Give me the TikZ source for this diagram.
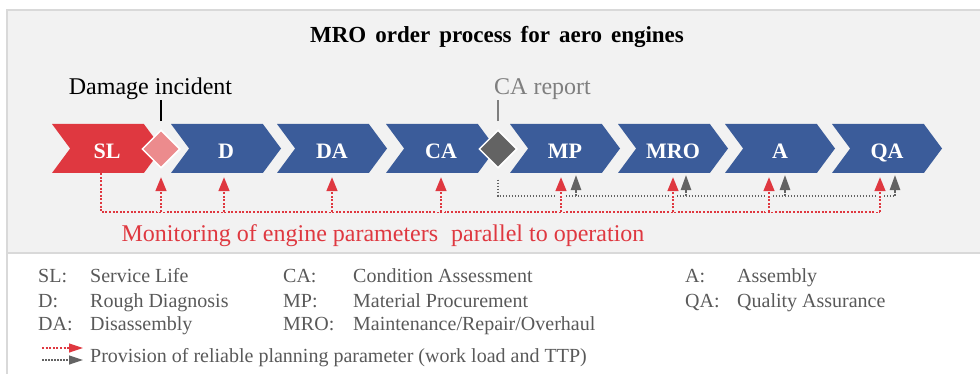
\documentclass[tikz,border=0pt]{standalone}
\usepackage{fontspec}
\setmainfont{Liberation Serif}
\usetikzlibrary{arrows.meta, positioning, calc, shapes.geometric, shapes.symbols}
\definecolor{ProcBlue}{HTML}{3B5C9A}
\definecolor{AlertRed}{HTML}{DF3840}
\definecolor{SoftRed}{HTML}{EC8B8D}
\definecolor{MarkGray}{HTML}{636363}
\definecolor{PanelGray}{HTML}{F2F2F2}
\definecolor{FrameGray}{HTML}{D9D9D9}
\definecolor{TextGray}{HTML}{595959}
\definecolor{NoteGray}{HTML}{7F7F7F}
\tikzset{
  phase/.style={shape=signal, signal from=west, signal to=east, signal pointer angle=107, fill=ProcBlue, minimum width=110pt, minimum height=49pt, inner sep=0pt, text=white, font=\fontsize{22}{22}\selectfont\bfseries, text height=20pt, text depth=0pt},
  redphase/.style={phase, fill=AlertRed},
  milestone/.style={diamond, draw=white, line width=1.5pt, minimum size=38pt, inner sep=0pt},
  eventlabel/.style={font=\fontsize{24}{24}\selectfont, anchor=base, inner sep=0pt},
  tick/.style={line width=1.4pt},
  legendtext/.style={font=\fontsize{20}{20}\selectfont, text=TextGray, anchor=base west, inner sep=0pt},
  monline/.style={draw=AlertRed, line width=1.6pt, dash pattern=on 2pt off 1.6pt},
  monarrow/.style={monline, -{Triangle[length=14pt, width=11pt]}, shorten >=4pt, preaction={draw=PanelGray, line width=8pt, solid, -}},
  planline/.style={draw=MarkGray, line width=1.3pt, dash pattern=on 1.5pt off 1.5pt},
  planarrow/.style={planline, -{Triangle[length=15pt, width=10.5pt]}, shorten >=2pt}
}

\begin{document}
\begin{tikzpicture}[x=1pt, y=-1pt]
\useasboundingbox (0,0) rectangle (980,374);
\clip (0,0) rectangle (980,374);
% panel and frame
\fill[PanelGray] (7,10) rectangle (990,253);
\draw[FrameGray, line width=2pt] (7,384) -- (7,10) -- (990,10);
\draw[FrameGray, line width=2pt] (7,253) -- (990,253);

\node[font={\fontsize{23}{23}\selectfont\bfseries\spaceskip=9pt\relax}, anchor=base, inner sep=0pt] (title) at (497,43) {MRO order process for aero engines};

% process phases
\node[redphase] (SL) at (107,148.5) {SL};
\node[phase] (D) at (226,148.5) {D};
\node[phase] (DA) at (332,148.5) {DA};
\node[phase] (CA) at (441,148.5) {CA};
\node[phase] (MP) at (565,148.5) {MP};
\node[phase] (MRO) at (673,148.5) {MRO};
\node[phase] (A) at (780,148.5) {A};
\node[phase] (QA) at (887,148.5) {QA};

% events
\node[milestone, fill=SoftRed] (dmg) at (161,149) {};
\node[milestone, fill=MarkGray] (rep) at (498,149) {};
\node[eventlabel] (dmglabel) at (150.5,95) {Damage incident};
\node[eventlabel, text=NoteGray] (replabel) at (542.5,95) {CA report};
\draw[tick] ([yshift=8pt]dmg.north) -- ([yshift=29pt]dmg.north);
\draw[tick, NoteGray] ([yshift=8pt]rep.north) -- ([yshift=29pt]rep.north);

% planning parameters after CA report
\coordinate (planY) at (0,196);
\draw[planline] ([yshift=-11pt]rep.south) -- (rep |- planY) -- ([xshift=8pt]QA.south |- planY);
\draw[planarrow] ([xshift=11pt]MP.south |- planY) -- ([xshift=11pt]MP.south);
\draw[planarrow] ([xshift=13pt]MRO.south |- planY) -- ([xshift=13pt]MRO.south);
\draw[planarrow] ([xshift=5pt]A.south |- planY) -- ([xshift=5pt]A.south);
\draw[planarrow] ([xshift=8pt]QA.south |- planY) -- ([xshift=8pt]QA.south);

% monitoring during operation
\coordinate (monY) at (0,212);
\draw[monline] ([xshift=-6pt]SL.south) -- ([xshift=-6pt]SL.south |- monY) -- ([xshift=-7pt]QA.south |- monY);
\draw[monarrow] (dmg |- monY) -- (dmg |- D.south);
\draw[monarrow] ([xshift=-2pt]D.south |- monY) -- ([xshift=-2pt]D.south);
\draw[monarrow] (DA.south |- monY) -- (DA.south);
\draw[monarrow] (CA.south |- monY) -- (CA.south);
\draw[monarrow] ([xshift=-4pt]MP.south |- monY) -- ([xshift=-4pt]MP.south);
\draw[monarrow] (MRO.south |- monY) -- (MRO.south);
\draw[monarrow] ([xshift=-11pt]A.south |- monY) -- ([xshift=-11pt]A.south);
\draw[monarrow] ([xshift=-7pt]QA.south |- monY) -- ([xshift=-7pt]QA.south);
\node[font=\fontsize{24}{24}\selectfont, text=AlertRed, anchor=base, inner sep=0pt] (monlabel) at (383,241) {Monitoring of engine parameters\hspace{7pt} parallel to operation};

% legend
\node[legendtext] (kSL) at (38,283) {SL:};
\node[legendtext] (tSL) at (90,283) {Service Life};
\node[legendtext] (kD) at (38,307) {D:};
\node[legendtext] (tD) at (90,307) {Rough Diagnosis};
\node[legendtext] (kDA) at (38,330) {DA:};
\node[legendtext] (tDA) at (90,330) {Disassembly};
\node[legendtext] (kCA) at (283,283) {CA:};
\node[legendtext] (tCA) at (353,283) {Condition Assessment};
\node[legendtext] (kMP) at (283,307) {MP:};
\node[legendtext] (tMP) at (353,307) {Material Procurement};
\node[legendtext] (kMRO) at (283,330) {MRO:};
\node[legendtext] (tMRO) at (353,330) {Maintenance/Repair/Overhaul};
\node[legendtext] (kA) at (685,283) {A:};
\node[legendtext] (tA) at (737,283) {Assembly};
\node[legendtext] (kQA) at (685,307) {QA:};
\node[legendtext] (tQA) at (737,307) {Quality Assurance};
\coordinate (keyredA) at (42,348);
\coordinate (keyredB) at (83,348);
\coordinate (keygrayA) at (42,360);
\coordinate (keygrayB) at (83,360);
\draw[monline, line width=1.2pt, -{Triangle[length=14pt, width=9pt]}] (keyredA) -- (keyredB);
\draw[planline, line width=1.2pt, -{Triangle[length=14pt, width=9pt]}] (keygrayA) -- (keygrayB);
\node[legendtext] (tkey) at (90,362) {Provision of reliable planning parameter (work load and TTP)};
\end{tikzpicture}
\end{document}
